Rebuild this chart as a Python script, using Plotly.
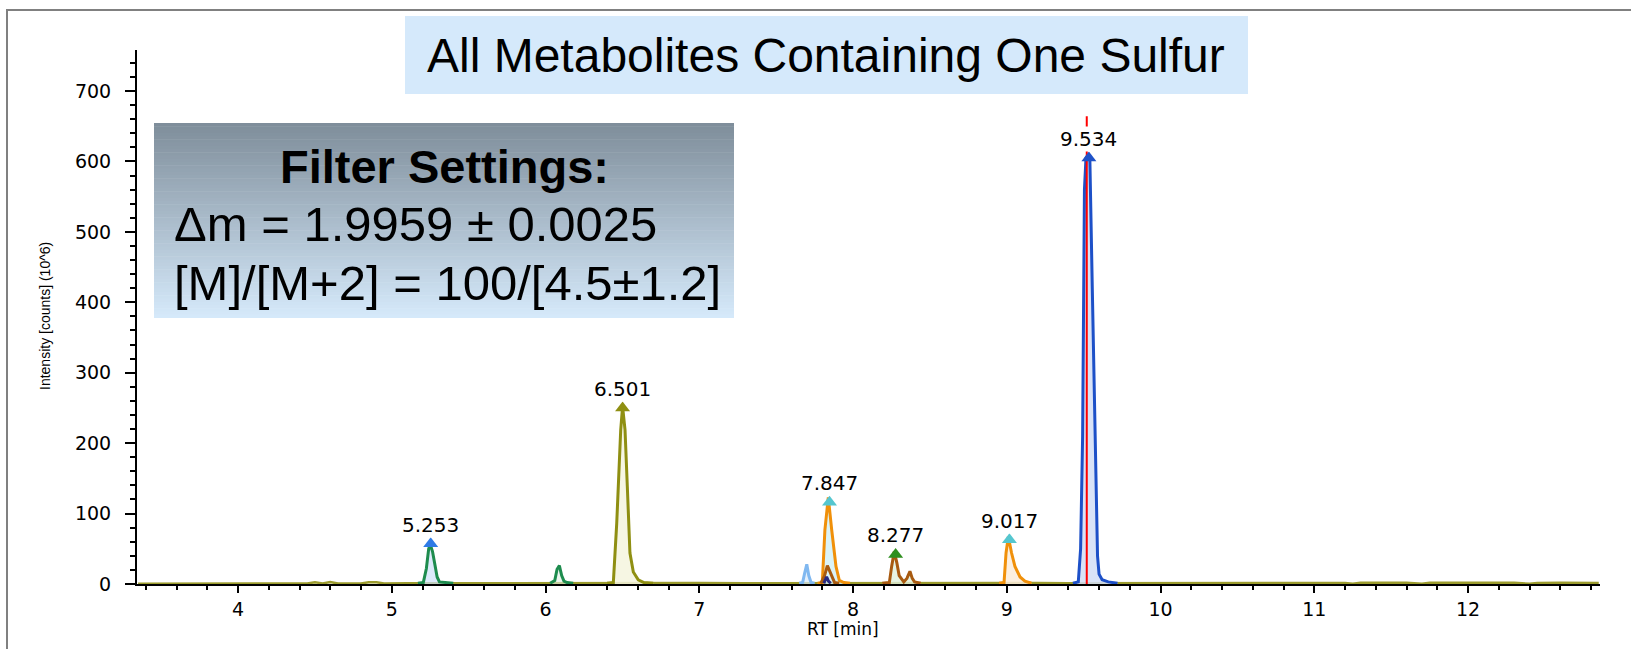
import plotly.graph_objects as go

# ---------------- data ----------------
PEAK_RT = [5.253, 6.501, 7.847, 8.277, 9.017, 9.534]
PEAK_INT = [57, 250, 116, 42, 63, 605]
PEAK_ARROW_COLORS = ["#2F7BE6", "#8F8F12", "#55C6CF", "#2F8F1F", "#55C6CF", "#1F52C8"]

BASE_RT = [3.35, 3.6, 3.9, 4.2, 4.45, 4.5, 4.55, 4.6, 4.65, 4.8, 4.85, 4.9, 4.95, 5.1,
           5.4, 5.7, 6.0, 6.3, 6.7, 7.0, 7.3, 7.6, 8.0, 8.6, 8.9, 9.2, 9.4, 9.8, 10.1,
           10.4, 10.7, 11.0, 11.2, 11.25, 11.3, 11.6, 11.7, 11.75, 12.0, 12.3, 12.4,
           12.45, 12.6, 12.85]
BASE_INT = [0.5, 0.5, 0.6, 0.5, 0.7, 2.5, 0.8, 2.8, 0.7, 0.8, 2.5, 2.5, 0.8, 1.0,
            1.2, 1.0, 1.4, 1.2, 1.5, 1.3, 1.2, 1.4, 1.5, 1.3, 1.2, 1.4, 1.2, 1.5, 1.4,
            1.6, 1.8, 1.6, 1.5, 0.4, 1.6, 1.7, 0.4, 1.6, 1.8, 1.7, 0.4,
            1.5, 1.7, 1.5]

GREEN_RT = [5.17, 5.205, 5.225, 5.24, 5.25, 5.265, 5.28, 5.295, 5.31, 5.34, 5.40]
GREEN_INT = [1, 2, 22, 50, 56, 46, 28, 10, 3, 2, 1]
GREEN2_RT = [6.03, 6.06, 6.075, 6.09, 6.105, 6.12, 6.14, 6.18]
GREEN2_INT = [1, 5, 21, 26, 12, 4, 2, 1]
OLIVE_RT = [6.40, 6.441, 6.463, 6.474, 6.489, 6.501, 6.517, 6.532, 6.549, 6.571, 6.603, 6.64, 6.70]
OLIVE_INT = [1, 2, 86, 148, 219, 252, 219, 138, 44, 17, 6, 2, 1]
LBLUE_RT = [7.65, 7.672, 7.685, 7.699, 7.712, 7.727, 7.75]
LBLUE_INT = [1, 2, 15, 28, 12, 2, 1]
ORANGE1_RT = [7.77, 7.80, 7.817, 7.839, 7.861, 7.889, 7.911, 7.94, 7.98]
ORANGE1_INT = [1, 2, 77, 123, 77, 25, 5, 2, 1]
BROWN1_RT = [7.79, 7.815, 7.833, 7.845, 7.86, 7.88, 7.91]
BROWN1_INT = [1, 12, 26, 20, 13, 2, 1]
NAVY_RT = [7.81, 7.828, 7.84, 7.855]
NAVY_INT = [1, 10, 4, 1]
BROWN2_RT = [8.19, 8.236, 8.251, 8.268, 8.285, 8.30, 8.33, 8.35, 8.37, 8.385, 8.40, 8.44]
BROWN2_INT = [1, 2, 25, 46, 30, 12, 3, 8, 18, 8, 3, 1]
ORANGE2_RT = [8.95, 8.982, 8.995, 9.01, 9.031, 9.053, 9.086, 9.118, 9.16]
ORANGE2_INT = [1, 2, 44, 67, 44, 25, 10, 4, 1]
BLUE_RT = [9.43, 9.465, 9.48, 9.493, 9.505, 9.515, 9.530, 9.540, 9.556, 9.572, 9.590, 9.60, 9.62, 9.66, 9.72]
BLUE_INT = [1, 3, 50, 209, 560, 605, 609, 605, 420, 230, 40, 14, 6, 3, 1]
CURSOR_RT = [9.52, 9.52]
CURSOR_INT = [0, 664]

TITLE = "All Metabolites Containing One Sulfur"
FILTER_HEAD = "Filter Settings:"
FILTER_LINES = ["\u0394m = 1.9959 \u00b1 0.0025", "[M]/[M+2] = 100/[4.5\u00b11.2]"]
X_TITLE = "RT [min]"
Y_TITLE = "Intensity [counts] (10^6)"

# ---------------- figure ----------------
fig = go.Figure()

fig.add_trace(go.Scatter(x=BASE_RT, y=BASE_INT, mode="lines",
                         line=dict(color="#9C9C2E", width=2.5), hoverinfo="skip"))

series = [
    (GREEN_RT, GREEN_INT, "#1E8C4E", "rgba(205,225,250,0.7)"),
    (GREEN2_RT, GREEN2_INT, "#1E8C4E", "rgba(225,240,230,0.6)"),
    (OLIVE_RT, OLIVE_INT, "#8F8F12", "rgba(245,245,222,0.85)"),
    (LBLUE_RT, LBLUE_INT, "#80B8F0", "rgba(215,232,250,0.7)"),
    (ORANGE1_RT, ORANGE1_INT, "#F0900A", "rgba(210,240,245,0.8)"),
    (BROWN1_RT, BROWN1_INT, "#A85A10", "rgba(0,0,0,0)"),
    (NAVY_RT, NAVY_INT, "#2A2A80", "rgba(0,0,0,0)"),
    (BROWN2_RT, BROWN2_INT, "#A85A10", "rgba(225,240,220,0.8)"),
    (ORANGE2_RT, ORANGE2_INT, "#F0900A", "rgba(252,236,218,0.85)"),
    (BLUE_RT, BLUE_INT, "#1D50C8", "rgba(210,222,246,0.85)"),
]
for xs, ys, col, fcol in series:
    fig.add_trace(go.Scatter(x=xs, y=ys, mode="lines", fill="tozeroy", fillcolor=fcol,
                             line=dict(color=col, width=3), hoverinfo="skip"))

fig.add_trace(go.Scatter(x=CURSOR_RT, y=CURSOR_INT, mode="lines",
                         line=dict(color="#FF0000", width=2), hoverinfo="skip"))

fig.add_trace(go.Scatter(x=PEAK_RT, y=PEAK_INT, mode="markers",
                         marker=dict(symbol="triangle-up", size=13, color=PEAK_ARROW_COLORS,
                                     line=dict(width=0)), hoverinfo="skip"))

for rt, inten in zip(PEAK_RT, PEAK_INT):
    fig.add_annotation(x=rt, y=inten, text=f"{rt:.3f}", showarrow=False, yshift=19,
                       xanchor="center", yanchor="middle",
                       bgcolor="white", borderpad=0,
                       font=dict(family="DejaVu Sans", size=20, color="black"))

# ---- decorations (paper coordinates) ----
PLOT_L, PLOT_R, PLOT_T, PLOT_B = 137, 1600, 50, 584
def px(x):
    return (x - PLOT_L) / (PLOT_R - PLOT_L)
def py(y):
    return (PLOT_B - y) / (PLOT_B - PLOT_T)

shapes = []
shapes.append(dict(type="rect", xref="paper", yref="paper", x0=px(7), x1=px(1700),
                   y0=py(800), y1=py(10), line=dict(color="#808080", width=2),
                   fillcolor="rgba(0,0,0,0)", layer="below"))
shapes.append(dict(type="rect", xref="paper", yref="paper", x0=px(405), x1=px(1248),
                   y0=py(94), y1=py(16), line=dict(width=0), fillcolor="#D5E9FB"))
# gradient box
top_c = (127, 142, 155)
bot_c = (213, 233, 250)
N = 60
y_top, y_bot = 123, 318
for i in range(N):
    t = i / (N - 1)
    c = tuple(int(round(top_c[k] + (bot_c[k] - top_c[k]) * t)) for k in range(3))
    ya = y_top + (y_bot - y_top) * i / N
    yb = y_top + (y_bot - y_top) * (i + 1) / N + 0.6
    shapes.append(dict(type="rect", xref="paper", yref="paper", x0=px(154), x1=px(734),
                       y0=py(min(yb, y_bot)), y1=py(ya), line=dict(width=0),
                       fillcolor=f"rgb({c[0]},{c[1]},{c[2]})"))

fig.update_layout(shapes=shapes)

def note(x, y, text, font, xanchor="center", **kw):
    fig.add_annotation(xref="paper", yref="paper", x=px(x), y=py(y), text=text,
                       xanchor=xanchor, yanchor="middle", showarrow=False, font=font, **kw)

note(826, 55, TITLE, dict(family="Liberation Sans, Arial", size=48, color="black"))
note(444, 166, f"<b>{FILTER_HEAD}</b>", dict(family="Liberation Sans, Arial", size=47, color="black"))
for txt, yy in zip(FILTER_LINES, [224, 283]):
    note(172, yy, txt, dict(family="Liberation Sans, Arial", size=49, color="black"), xanchor="left")
note(45, 316, Y_TITLE,
     dict(family="Liberation Sans Narrow, Arial Narrow, Liberation Sans", size=14, color="black"),
     textangle=-90)
note(843, 629, X_TITLE, dict(family="DejaVu Sans", size=17, color="black"))

fig.update_layout(
    width=1631, height=649,
    margin=dict(l=PLOT_L, r=1631 - PLOT_R, t=PLOT_T, b=649 - PLOT_B, pad=0),
    paper_bgcolor="white", plot_bgcolor="white",
    showlegend=False,
    xaxis=dict(range=[3.343, 12.858], showline=True, linecolor="black", linewidth=2,
               ticks="outside", ticklen=7, tickwidth=2, tickcolor="black",
               tick0=0, dtick=1, showgrid=False, zeroline=False,
               minor=dict(ticks="outside", ticklen=4, tickwidth=2, tickcolor="black",
                          tick0=0, dtick=0.2, showgrid=False),
               tickfont=dict(family="DejaVu Sans", size=19, color="black")),
    yaxis=dict(range=[0, 758.2], showline=True, linecolor="black", linewidth=2,
               ticks="outside", ticklen=10, tickwidth=2, tickcolor="black",
               tick0=0, dtick=100, showgrid=False, zeroline=False,
               ticklabelstandoff=10,
               minor=dict(ticks="outside", ticklen=5, tickwidth=1.5, tickcolor="black",
                          tick0=0, dtick=20, showgrid=False),
               tickfont=dict(family="DejaVu Sans", size=19, color="black")),
)

fig.write_html("out.html")
